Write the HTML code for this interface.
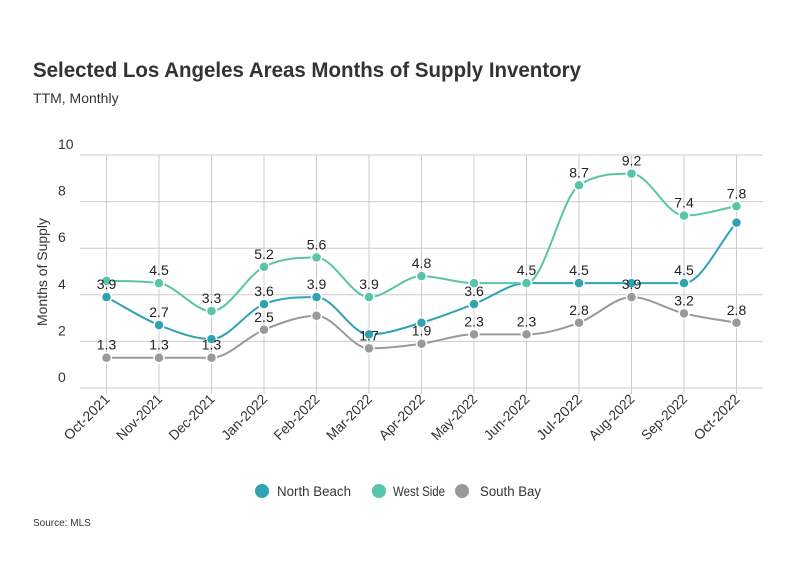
<!DOCTYPE html>
<html><head><meta charset="utf-8"><style>
body{margin:0;background:#fff;}
svg text{font-family:"Liberation Sans",sans-serif;}
</style></head><body>
<svg id="chart" width="800" height="575" viewBox="0 0 800 575">
<text x="33" y="77" font-size="21" font-weight="bold" fill="#333" textLength="548" lengthAdjust="spacingAndGlyphs">Selected Los Angeles Areas Months of Supply Inventory</text>
<text x="33" y="103" font-size="14" fill="#333">TTM, Monthly</text>
<text transform="translate(47,272) rotate(-90)" text-anchor="middle" font-size="14" fill="#333" textLength="108" lengthAdjust="spacingAndGlyphs">Months of Supply</text>
<g id="grid"></g><g id="series"></g><g id="labels"></g><g id="xaxis"></g>
<g>
<g><circle cx="262" cy="491" r="7" fill="#2fa3b2"/><text x="277" y="496" font-size="14" fill="#333" textLength="74" lengthAdjust="spacingAndGlyphs">North Beach</text></g>
<g><circle cx="379" cy="491" r="7" fill="#58c4a9"/><text x="393" y="496" font-size="14" fill="#333" textLength="52" lengthAdjust="spacingAndGlyphs">West Side</text></g>
<g><circle cx="462" cy="491" r="7" fill="#999"/><text x="480" y="496" font-size="14" fill="#333" textLength="61" lengthAdjust="spacingAndGlyphs">South Bay</text></g>
</g>
<text x="33" y="526" font-size="10" fill="#333">Source: MLS</text>
</svg>
<script>
const categories=["Oct-2021","Nov-2021","Dec-2021","Jan-2022","Feb-2022","Mar-2022","Apr-2022","May-2022","Jun-2022","Jul-2022","Aug-2022","Sep-2022","Oct-2022"];
const northBeach=[3.9,2.7,2.1,3.6,3.9,2.3,2.8,3.6,4.5,4.5,4.5,4.5,7.1];
const westSide=[4.6,4.5,3.3,5.2,5.6,3.9,4.8,4.5,4.5,8.7,9.2,7.4,7.8];
const southBay=[1.3,1.3,1.3,2.5,3.1,1.7,1.9,2.3,2.3,2.8,3.9,3.2,2.8];
const northBeachLabels=[1,1,0,1,1,0,0,1,0,1,0,1,0];
const westSideLabels=[0,1,1,1,1,1,1,0,1,1,1,1,1];
const southBayLabels=[1,1,1,1,0,1,1,1,1,1,1,1,1];
const yTicks=[0,2,4,6,8,10];
const NS="http://www.w3.org/2000/svg";
const L=80,R=763,T=155,B=388,x0=106.5,dx=52.5;
const xs=i=>x0+i*dx, ys=v=>B-(v/10)*(B-T);
function mk(tag,attrs,parent,txt){const e=document.createElementNS(NS,tag);for(const k in attrs)e.setAttribute(k,attrs[k]);if(txt!==undefined)e.textContent=txt;parent.appendChild(e);return e;}
const grid=document.getElementById('grid');
yTicks.forEach(t=>{
 const l=mk('line',{x1:L,x2:R,y1:ys(t),y2:ys(t),stroke:'#ccc','stroke-width':1},grid);
 
 
 const tx=mk('text',{x:58,y:ys(t)-6,'font-size':14,fill:'#333'},grid,String(t));
 
 
});
const xa=document.getElementById('xaxis');
categories.forEach((c,i)=>{
 const l=mk('line',{x1:xs(i),x2:xs(i),y1:T,y2:B+6,stroke:'#ccc','stroke-width':1},grid);
 
 
 const tx=mk('text',{transform:`translate(${xs(i)+4},${B+12}) rotate(-45)`,'text-anchor':'end','font-size':14,fill:'#333',textLength:58,lengthAdjust:'spacingAndGlyphs'},xa,c);
 
 
});
function monotone(pts){
 const n=pts.length,d=[],m=[];
 for(let i=0;i<n-1;i++)d.push((pts[i+1][1]-pts[i][1])/(pts[i+1][0]-pts[i][0]));
 for(let i=0;i<n;i++){
  if(i==0)m.push(d[0]);else if(i==n-1)m.push(d[n-2]);
  else m.push(d[i-1]*d[i]<=0?0:(d[i-1]+d[i])/2);
 }
 for(let i=0;i<n-1;i++){if(d[i]==0){m[i]=0;m[i+1]=0;continue;}
  const a=m[i]/d[i],b=m[i+1]/d[i],s=a*a+b*b;if(s>9){const t=3/Math.sqrt(s);m[i]=t*a*d[i];m[i+1]=t*b*d[i];}}
 let p=`M${pts[0][0]},${pts[0][1]}`;
 for(let i=0;i<n-1;i++){const h=(pts[i+1][0]-pts[i][0])/3;
  p+=` C${pts[i][0]+h},${pts[i][1]+m[i]*h} ${pts[i+1][0]-h},${pts[i+1][1]-m[i+1]*h} ${pts[i+1][0]},${pts[i+1][1]}`;}
 return p;
}
const sg=document.getElementById('series'),lg=document.getElementById('labels');
[[southBay,southBayLabels,'#999','south-bay'],[northBeach,northBeachLabels,'#2fa3b2','north-beach'],[westSide,westSideLabels,'#58c4a9','west-side']].forEach(([vals,lbl,col,name])=>{
 const pts=vals.map((v,i)=>[xs(i),ys(v)]);
 const p=mk('path',{d:monotone(pts),fill:'none',stroke:col,'stroke-width':2},sg);
 
 
 vals.forEach((v,i)=>{
  const c=mk('circle',{cx:xs(i),cy:ys(v),r:5,fill:col,stroke:'#fff','stroke-width':1.5},sg);
  
  
  if(lbl[i]){
   const t=mk('text',{x:xs(i),y:ys(v)-8,'text-anchor':'middle','font-size':14,fill:'#222'},lg,v.toFixed(1));
   
   
  }
 });
});
</script>
</body></html>
